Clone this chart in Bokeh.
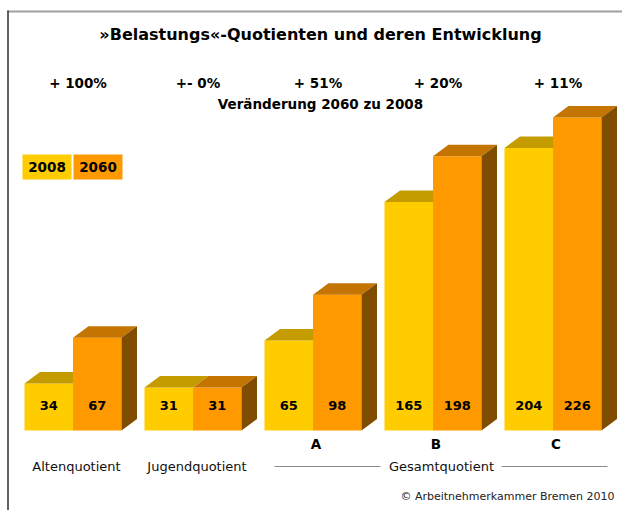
from bokeh.plotting import figure
from bokeh.models import Range1d
from bokeh.embed import file_html
from bokeh.resources import INLINE
from bokeh.core.properties import value

# ---------------- data ----------------
categories = ["Altenquotient", "Jugendquotient", "A", "B", "C"]
values_2008 = [34, 31, 65, 165, 204]
values_2060 = [67, 31, 98, 198, 226]
change_labels = ["+ 100%", "+- 0%", "+ 51%", "+ 20%", "+ 11%"]
series_labels = ["2008", "2060"]
title_text = "»Belastungs«-Quotienten und deren Entwicklung"
subtitle_text = "Veränderung 2060 zu 2008"
group_label = "Gesamtquotient"
credit_text = "© Arbeitnehmerkammer Bremen 2010"

# ---------------- layout / style ----------------
W, H = 622, 510
K = 1.385          # pixels per unit
BASE = 430         # screen y of the bars' base


def vy(y):
    """screen y -> data value"""
    return (BASE - y) / K


FONT = value("DejaVu Sans")
Y_FRONT, Y_TOP = "#FFCC00", "#C49C00"
O_FRONT, O_TOP, O_SIDE = "#FF9900", "#C47400", "#7F4C00"

p = figure(width=W, height=H,
           x_range=Range1d(0, W),
           y_range=Range1d(vy(H), vy(0)),
           output_backend="svg", toolbar_location=None, min_border=0)
p.axis.visible = False
p.grid.visible = False
p.outline_line_color = None
p.background_fill_color = "white"
p.border_fill_color = "white"

# frame lines
p.segment(x0=[7], y0=[vy(11)], x1=[622], y1=[vy(11)], line_color="#A0A0A0", line_width=2)
p.segment(x0=[7.5], y0=[vy(10)], x1=[7.5], y1=[vy(520)], line_color="#3C3C3C", line_width=1.6)

# ---------------- bars ----------------
GX0, GSTEP, BW, DX = 24, 120, 48.5, 15.5
DYV = 11.5 / K
n = len(categories)
gx = [GX0 + GSTEP * i for i in range(n)]

x0 = gx
x1 = [g + BW for g in gx]
x2 = [g + 2 * BW for g in gx]

# yellow (2008)
p.quad(left=x0, right=x1, bottom=[0] * n, top=values_2008, fill_color=Y_FRONT, line_color=None)
p.patches(xs=[[a, b, b + DX, a + DX] for a, b in zip(x0, x1)],
          ys=[[v, v, v + DYV, v + DYV] for v in values_2008],
          fill_color=Y_TOP, line_color=None)
# orange (2060)
p.quad(left=x1, right=x2, bottom=[0] * n, top=values_2060, fill_color=O_FRONT, line_color=None)
p.patches(xs=[[a, b, b + DX, a + DX] for a, b in zip(x1, x2)],
          ys=[[v, v, v + DYV, v + DYV] for v in values_2060],
          fill_color=O_TOP, line_color=None)
p.patches(xs=[[b, b, b + DX, b + DX] for b in x2],
          ys=[[0, v, v + DYV, DYV] for v in values_2060],
          fill_color=O_SIDE, line_color=None)

# value labels
lab_y = [vy(405)] * n
p.text(x=[(a + b) / 2 for a, b in zip(x0, x1)], y=lab_y, text=[str(v) for v in values_2008],
       text_font=FONT, text_font_style="bold", text_font_size="13px",
       text_align="center", text_baseline="middle", text_color="black")
p.text(x=[(a + b) / 2 for a, b in zip(x1, x2)], y=lab_y, text=[str(v) for v in values_2060],
       text_font=FONT, text_font_style="bold", text_font_size="13px",
       text_align="center", text_baseline="middle", text_color="black")

# change percentages
p.text(x=[b + 5 for b in x1], y=[vy(82)] * n, text=change_labels,
       text_font=FONT, text_font_style="bold", text_font_size="13.5px",
       text_align="center", text_baseline="middle", text_color="black")

# titles
p.text(x=[320], y=[vy(34)], text=[title_text], text_font=FONT, text_font_style="bold",
       text_font_size="16px", text_align="center", text_baseline="middle", text_color="black")
p.text(x=[320], y=[vy(103)], text=[subtitle_text], text_font=FONT, text_font_style="bold",
       text_font_size="13.5px", text_align="center", text_baseline="middle", text_color="black")

# legend boxes
p.quad(left=[22, 73], right=[71, 122], bottom=[vy(179)] * 2, top=[vy(154)] * 2,
       fill_color=[Y_FRONT, O_FRONT], line_color=None)
p.text(x=[46.5, 97.5], y=[vy(166.5)] * 2, text=series_labels, text_font=FONT,
       text_font_style="bold", text_font_size="13.5px", text_align="center",
       text_baseline="middle", text_color="black")

# category labels
p.text(x=[76, 196.5], y=[vy(466)] * 2, text=categories[:2], text_font=FONT,
       text_font_size="13px", text_align="center", text_baseline="middle", text_color="#111111")
p.text(x=[b + 3 for b in x1[2:]], y=[vy(443)] * 3, text=categories[2:], text_font=FONT,
       text_font_style="bold", text_font_size="13.5px", text_align="center",
       text_baseline="middle", text_color="black")
p.text(x=[441], y=[vy(466)], text=[group_label], text_font=FONT, text_font_size="13px",
       text_align="center", text_baseline="middle", text_color="#111111")
p.segment(x0=[274, 501], y0=[vy(466)] * 2, x1=[380, 607], y1=[vy(466)] * 2,
          line_color="#8C8C8C", line_width=1)

# credit
p.text(x=[614], y=[vy(496)], text=[credit_text], text_font=FONT, text_font_size="11px",
       text_align="right", text_baseline="middle", text_color="#222222")

open("out.html", "w").write(file_html(p, INLINE))
